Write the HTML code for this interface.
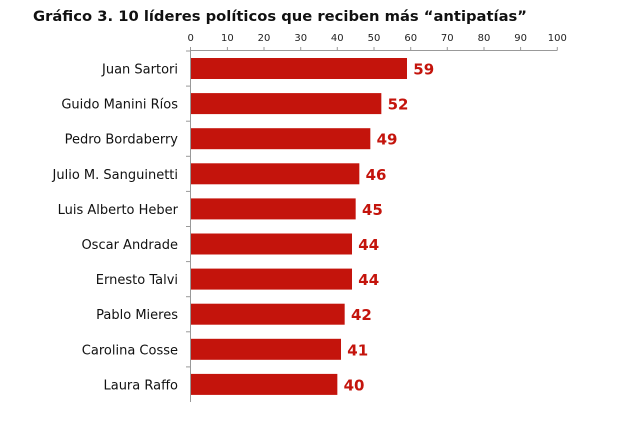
<!DOCTYPE html>
<html><head><style>
body{margin:0;background:#fff;width:631px;height:422px;overflow:hidden;font-family:"DejaVu Sans","Liberation Sans",sans-serif;}
</style></head><body>
<svg width="631" height="422" xmlns="http://www.w3.org/2000/svg">
<text x="33" y="21" font-size="14" font-weight="bold" fill="#111" font-family="DejaVu Sans, sans-serif" textLength="494" lengthAdjust="spacingAndGlyphs">Gráfico 3. 10 líderes políticos que reciben más “antipatías”</text>
<g font-size="10" fill="#222" text-anchor="middle" font-family="DejaVu Sans, sans-serif">
<text x="190.7" y="41">0</text><text x="227.4" y="41">10</text><text x="264" y="41">20</text><text x="300.7" y="41">30</text><text x="337.3" y="41">40</text><text x="374" y="41">50</text><text x="410.7" y="41">60</text><text x="447.3" y="41">70</text><text x="484" y="41">80</text><text x="520.6" y="41">90</text><text x="557.3" y="41">100</text>
</g>
<g stroke="#999" stroke-width="1">
<line x1="190.5" y1="50.5" x2="557.5" y2="50.5"/>
<line x1="190.5" y1="47" x2="190.5" y2="402"/>
<line x1="227.4" y1="47" x2="227.4" y2="50"/><line x1="264" y1="47" x2="264" y2="50"/><line x1="300.7" y1="47" x2="300.7" y2="50"/><line x1="337.3" y1="47" x2="337.3" y2="50"/><line x1="374" y1="47" x2="374" y2="50"/><line x1="410.7" y1="47" x2="410.7" y2="50"/><line x1="447.3" y1="47" x2="447.3" y2="50"/><line x1="484" y1="47" x2="484" y2="50"/><line x1="520.6" y1="47" x2="520.6" y2="50"/><line x1="557.3" y1="47" x2="557.3" y2="50"/>
</g>
<g id="rows" font-family="DejaVu Sans, sans-serif"></g>
</svg>
<script>
var d=[["Juan Sartori",59],["Guido Manini Ríos",52],["Pedro Bordaberry",49],["Julio M. Sanguinetti",46],["Luis Alberto Heber",45],["Oscar Andrade",44],["Ernesto Talvi",44],["Pablo Mieres",42],["Carolina Cosse",41],["Laura Raffo",40]];
var g=document.getElementById("rows"),s="";
d.forEach(function(r,i){var y=58+i*35.1,w=r[1]*3.666;
s+='<line x1="186" x2="190.5" y1="'+(y-7)+'" y2="'+(y-7)+'" stroke="#999"/>';
s+='<rect x="191" y="'+y+'" width="'+(w-0.3)+'" height="21" fill="#c4140c"/>';
s+='<text x="178" y="'+(y+15.5)+'" font-size="13" fill="#111" text-anchor="end">'+r[0]+'</text>';
s+='<text x="'+(191+w+6)+'" y="'+(y+16.5)+'" font-size="15" font-weight="bold" fill="#c4140c">'+r[1]+'</text>';});
g.innerHTML=s;
</script>
</body></html>
